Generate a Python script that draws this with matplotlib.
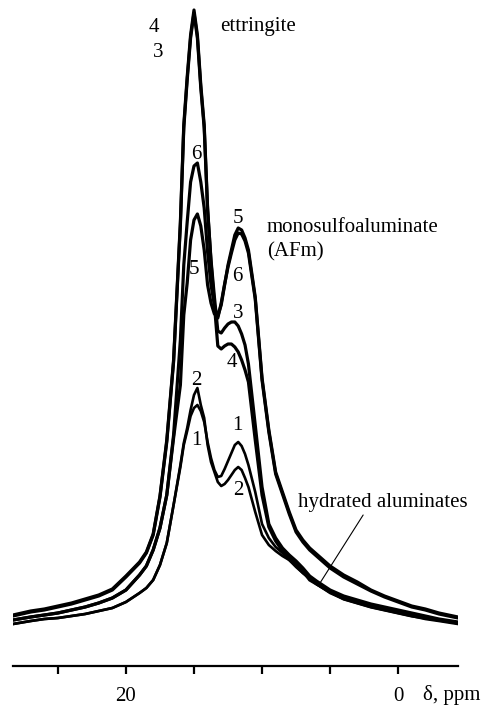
import matplotlib
matplotlib.use("Agg")
import matplotlib.pyplot as plt

plt.rcParams.update({
    "font.family": ["Liberation Serif", "DejaVu Serif"],
    "font.size": 15,
})

# chemical shift grid (ppm), shared by all spectra
ppm = [28.3, 27, 26, 25, 24, 23, 22, 21, 20, 19,
       18.5, 18, 17.5, 17, 16.5, 16,
       15.75, 15.5, 15.25, 15, 14.75, 14.5, 14.25, 14, 13.75, 13.5,
       13.25, 13, 12.75, 12.5, 12.25, 12, 11.75, 11.5, 11.25, 11,
       10.5, 10, 9.5, 9, 8.5, 8, 7.5, 7, 6.5, 6,
       5, 4, 3, 2, 1, 0, -1, -2, -3,
       -4.4]

# intensities (a.u.)
spec1 = [6, 9, 11, 12, 14, 16, 19, 22, 28, 37,
         42, 50, 65, 87, 125, 163,
         185, 199, 214, 222, 225, 219, 208, 188, 172, 160,
         153, 154, 161, 169, 177, 185, 188, 184, 176, 165,
         138, 106, 92, 83, 77, 70, 63, 57, 52, 46,
         37, 31, 27, 23, 20, 17, 14, 11, 9,
         6]
spec2 = [6, 9, 11, 12, 14, 16, 19, 22, 28, 37,
         42, 50, 65, 87, 125, 165,
         187, 202, 220, 235, 242, 225, 212, 185, 168, 158,
         148, 144, 146, 150, 155, 160, 163, 160, 152, 143,
         118, 95, 85, 79, 74, 70, 64, 57, 51, 46,
         38, 32, 28, 24, 21, 18, 15, 12, 10,
         7]
spec3 = [14, 18, 20, 23, 26, 30, 34, 40, 53, 67,
         77, 95, 133, 188, 268, 405,
         502, 550, 592, 617, 592, 542, 502, 420, 370, 333,
         299, 297, 302, 306, 308, 308, 304, 296, 285, 266,
         205, 143, 106, 92, 82, 75, 69, 62, 54, 49,
         40, 34, 30, 26, 23, 20, 17, 14, 11,
         8]
spec4 = [15, 19, 21, 24, 27, 31, 35, 41, 54, 68,
         78, 96, 134, 190, 270, 408,
         505, 553, 595, 620, 595, 545, 505, 422, 368, 325,
         284, 281, 284, 286, 286, 283, 278, 270, 260, 248,
         190, 135, 103, 89, 79, 72, 66, 59, 50, 46,
         38, 31, 27, 23, 20, 17, 14, 12, 10,
         7]
spec5 = [10, 13, 15, 17, 20, 23, 27, 32, 40, 55,
         64, 80, 102, 135, 192, 245,
         315, 347, 390, 410, 416, 404, 380, 345, 327, 316,
         314, 325, 345, 365, 380, 395, 402, 400, 392, 380,
         333, 252, 200, 158, 138, 118, 100, 90, 82, 76,
         64, 55, 48, 40, 34, 29, 24, 21, 17,
         13]
spec6 = [10, 13, 15, 17, 20, 23, 27, 32, 40, 55,
         64, 80, 102, 135, 195, 290,
         365, 408, 448, 464, 467, 448, 422, 378, 345, 325,
         312, 327, 346, 363, 377, 390, 397, 396, 389, 377,
         331, 250, 198, 156, 136, 116, 98, 88, 80, 74,
         62, 53, 46, 39, 33, 28, 23, 20, 16,
         12]

ticks = [25, 20, 15, 10, 5, 0]
tick_labels = ["", "20", "", "", "", "0"]

# curve number labels: (text, ppm, intensity)
numbers = [("4", 17.94, 598), ("3", 17.65, 573), ("6", 14.85, 471),
           ("5", 11.76, 407), ("5", 15.0, 356), ("6", 11.84, 349),
           ("3", 11.76, 312), ("4", 12.21, 263), ("2", 14.85, 245),
           ("1", 14.85, 185), ("1", 11.84, 200), ("2", 11.76, 135)]


# --------------------------------------------------------------------------- #
fig = plt.figure(figsize=(4.86, 7.08), dpi=100)
ax = fig.add_axes([13/486, 1 - 666/708, 445/486, 666/708])

for s in [spec1, spec2]:
    ax.plot(ppm, s, color="black", lw=1.9, solid_joinstyle="round")
for s in [spec3, spec4, spec5, spec6]:
    ax.plot(ppm, s, color="black", lw=2.3, solid_joinstyle="round")

for txt, xx, yy in numbers:
    ax.text(xx, yy, txt, ha="center", va="baseline")

ax.text(13.09, 599, "ettringite", ha="left", va="baseline")
ax.text(9.63, 398, "monosulfoaluminate", ha="left", va="baseline")
ax.text(9.63, 374, "(AFm)", ha="left", va="baseline")
ax.text(7.35, 123, "hydrated aluminates", ha="left", va="baseline")
ax.annotate("", xy=(5.74, 47), xytext=(2.57, 115),
            arrowprops=dict(arrowstyle="-", lw=0.8, color="black",
                            shrinkA=0, shrinkB=0))

ax.set_xlim(28.3, -4.4)
ax.set_ylim(-36, 630)

for side in ["left", "right", "top"]:
    ax.spines[side].set_visible(False)
ax.spines["bottom"].set_linewidth(1.6)
ax.set_yticks([])
ax.set_xticks(ticks)
ax.set_xticklabels(tick_labels)
ax.tick_params(axis="x", direction="out", length=6, width=1.6,
               pad=9, labelsize=15)

fig.text(423/486, 8/708, "δ, ppm", ha="left", va="baseline", fontsize=15)

plt.savefig("out.png", dpi=100)
